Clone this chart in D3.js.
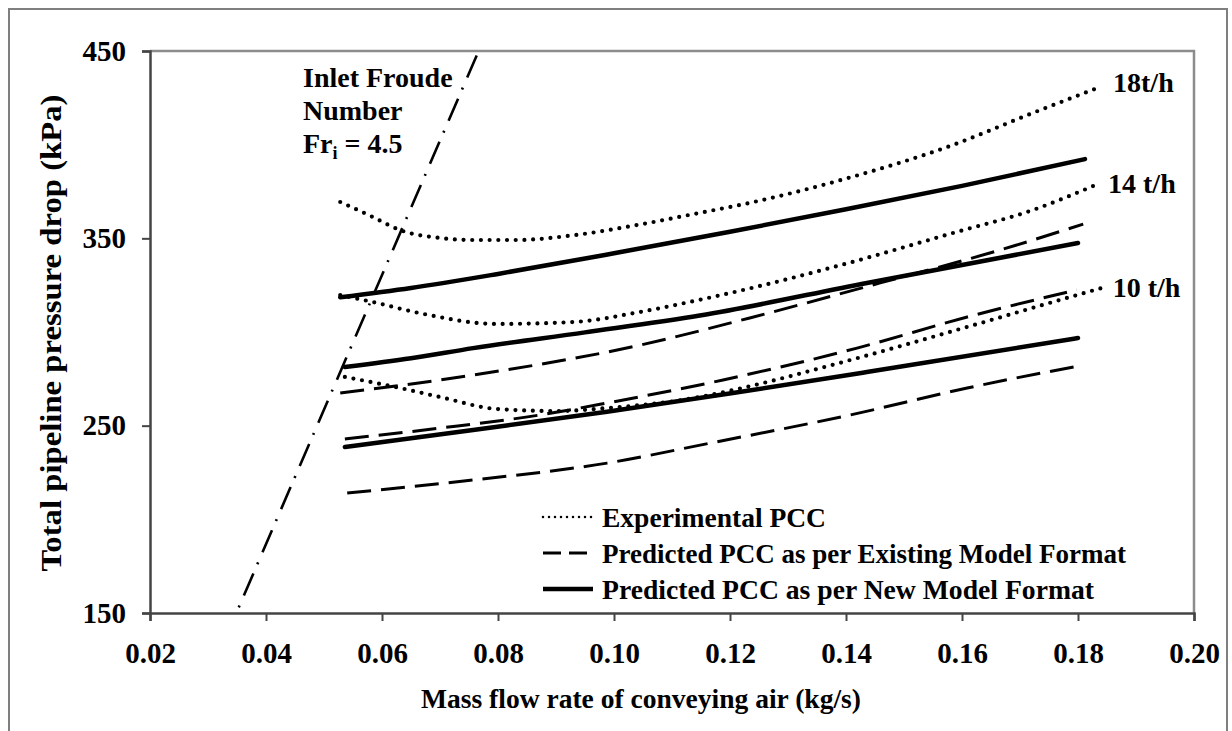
<!DOCTYPE html>
<html lang="en">
  <head>
    <meta charset="UTF-8" />
    <title>PCC</title>
    <script src="https://d3js.org/d3.v7.min.js"></script>
    <style>
      body { margin: 0; background: #fff; }
      text { font-family: 'Liberation Serif', 'Times New Roman', serif; font-weight: bold; fill: #000; }
    </style>
  </head>

  <body>
    <div id="graph"></div>
    <script>
      // tick values
      const xTicks = [0.02, 0.04, 0.06, 0.08, 0.1, 0.12, 0.14, 0.16, 0.18, 0.2]
      const yTicks = [150, 250, 350, 450]

      // experimental PCC (dotted)
      const exp18 = [[0.0528, 369.4], [0.0584, 361.4], [0.0631, 354.4], [0.07, 350.2], [0.0757, 349.1], [0.0833, 349.1], [0.0929, 351.6], [0.1045, 357.4], [0.1148, 363.6], [0.1214, 367.6], [0.1398, 381.7], [0.1584, 399.8], [0.1722, 416.9], [0.1838, 430.8]]
      const exp14 = [[0.0528, 319.7], [0.0584, 316], [0.0666, 310], [0.0798, 304.3], [0.0929, 305.3], [0.1045, 310.7], [0.1148, 317.2], [0.1214, 321.8], [0.1398, 336.3], [0.1584, 352.8], [0.1722, 365.1], [0.1838, 379.5]]
      const exp10 = [[0.0536, 276], [0.0631, 270.1], [0.07, 265.3], [0.0798, 258.9], [0.0902, 257.8], [0.0988, 259.4], [0.1148, 265.3], [0.1205, 269], [0.1407, 285], [0.1609, 302.7], [0.1781, 318.2], [0.1841, 323.5]]

      // predicted, existing model format (dashed)
      const existing18 = [[0.0528, 267.4], [0.0757, 277], [0.1045, 293], [0.1234, 307.5], [0.1459, 326.2], [0.1666, 343.8], [0.1809, 357.6]]
      const existing14 = [[0.0536, 242.9], [0.07, 248.7], [0.0872, 255.7], [0.0988, 262.1], [0.1188, 274.4], [0.1419, 291.4], [0.1609, 308], [0.1798, 322.5]]
      const existing10 = [[0.054, 214], [0.0757, 221], [0.0988, 230], [0.1166, 240.7], [0.1407, 255.7], [0.1609, 270.1], [0.18, 281.8]]

      // predicted, new model format (solid)
      const new18 = [[0.0528, 318.5], [0.065, 323.5], [0.08, 331], [0.1, 342], [0.12, 353.5], [0.14, 365.5], [0.16, 378], [0.1812, 392.3]]
      const new14 = [[0.0536, 281.3], [0.065, 286], [0.0757, 291.4], [0.095, 299.8], [0.1148, 308.8], [0.1436, 326.2], [0.18, 347.5]]
      const new10 = [[0.0536, 238.6], [0.0757, 247.7], [0.0988, 257.4], [0.1205, 267.4], [0.1436, 278.6], [0.18, 296.8]]

      // inlet Froude number line Fr = 4.5
      const froude = [[0.0353, 153], [0.0768, 451]]

      const rateLabels = ['18t/h', '14 t/h', '10 t/h']
      const legendLabels = ['Experimental PCC', 'Predicted PCC as per Existing Model Format', 'Predicted PCC as per New Model Format']

      const W = 1232, H = 731
      const svg = d3.select('#graph').append('svg').attr('width', W).attr('height', H)

      // outer frame
      svg.append('rect').attr('x', 9).attr('y', 9).attr('width', 1218).attr('height', 740)
        .attr('fill', 'none').attr('stroke', '#7f7f7f').attr('stroke-width', 2)

      const x = d3.scaleLinear().domain([0.02, 0.2]).range([150, 1194])
      const y = d3.scaleLinear().domain([150, 450]).range([613, 51])

      // plot frame (top/right)
      svg.append('path').attr('d', `M150,51H1194V613`).attr('fill', 'none').attr('stroke', '#8c8c8c').attr('stroke-width', 2.5)

      svg.append('clipPath').attr('id', 'clip').append('rect').attr('x', 150).attr('y', 51).attr('width', 1044).attr('height', 562)

      // axes
      const xAxis = d3.axisBottom(x).tickValues(xTicks).tickFormat(d3.format('.2f')).tickSize(8).tickPadding(14)
      const gx = svg.append('g').attr('transform', 'translate(0,613)').call(xAxis)
      const yAxis = d3.axisLeft(y).tickValues(yTicks).tickSize(8).tickPadding(16)
      const gy = svg.append('g').attr('transform', 'translate(150,0)').call(yAxis)
      ;[gx, gy].forEach((g) => {
        g.select('.domain').attr('stroke', '#444').attr('stroke-width', 2.5)
        g.selectAll('.tick line').attr('stroke', '#444').attr('stroke-width', 2)
        g.selectAll('.tick text').attr('font-size', 29).attr('fill', '#000')
      })
      gx.selectAll('.tick text').attr('dy', '0.98em')

      // axis titles
      svg.append('text').attr('x', 641).attr('y', 708).attr('text-anchor', 'middle').attr('font-size', 28)
        .attr('textLength', 440).attr('lengthAdjust', 'spacingAndGlyphs').text('Mass flow rate of conveying air (kg/s)')
      svg.append('text').attr('transform', 'translate(61,333) rotate(-90)').attr('text-anchor', 'middle').attr('font-size', 29)
        .attr('textLength', 477).attr('lengthAdjust', 'spacingAndGlyphs').text('Total pipeline pressure drop (kPa)')

      const line = d3.line().x((d) => x(d[0])).y((d) => y(d[1])).curve(d3.curveMonotoneX)
      const plot = svg.append('g').attr('clip-path', 'url(#clip)')

      const styles = {
        dotted: { w: 4.2, dash: '0 8.7', cap: 'round' },
        dashed: { w: 3, dash: '24 10', cap: 'butt' },
        solid: { w: 4.5, dash: null, cap: 'round' }
      }
      const series = [
        { data: exp18, s: 'dotted' }, { data: exp14, s: 'dotted' }, { data: exp10, s: 'dotted' },
        { data: existing18, s: 'dashed' }, { data: existing14, s: 'dashed' }, { data: existing10, s: 'dashed' },
        { data: new18, s: 'solid' }, { data: new14, s: 'solid' }, { data: new10, s: 'solid' }
      ]
      plot.selectAll('path.curve').data(series).join('path').attr('class', 'curve')
        .attr('d', (d) => line(d.data))
        .attr('fill', 'none').attr('stroke', '#000')
        .attr('stroke-width', (d) => styles[d.s].w)
        .attr('stroke-dasharray', (d) => styles[d.s].dash)
        .attr('stroke-linecap', (d) => styles[d.s].cap)

      // Froude line (dash-dot), drawn from the bottom up
      plot.append('path').attr('d', d3.line().x((d) => x(d[0])).y((d) => y(d[1]))(froude))
        .attr('fill', 'none').attr('stroke', '#000').attr('stroke-width', 2.6)
        .attr('stroke-dasharray', '2 11 24 10')

      // annotation
      const ann = svg.append('text').attr('x', 303).attr('font-size', 28)
      ann.append('tspan').attr('x', 303).attr('y', 87).text('Inlet Froude')
      ann.append('tspan').attr('x', 303).attr('y', 120).text('Number')
      ann.append('tspan').attr('x', 303).attr('y', 153).text('Fr')
      ann.append('tspan').attr('font-size', 18).attr('dy', 6).text('i')
      ann.append('tspan').attr('dy', -6).text(' = 4.5')

      // rate labels at end of experimental curves
      const rateEnds = [exp18, exp14, exp10].map((d) => d[d.length - 1])
      const rateDx = [13, 8, 11]
      const rateDy = [5, 10, 9]
      svg.selectAll('text.rate').data(rateLabels).join('text').attr('class', 'rate')
        .attr('x', (d, i) => x(rateEnds[i][0]) + rateDx[i])
        .attr('y', (d, i) => y(rateEnds[i][1]) + rateDy[i])
        .attr('font-size', 28)
        .text((d) => d)

      // legend
      const leg = svg.append('g').attr('transform', 'translate(543,517)')
      const legStyles = [
        { w: 2.5, dash: '0 6', cap: 'round' },
        { w: 3, dash: '18 8', cap: 'butt' },
        { w: 4.5, dash: null, cap: 'butt' }
      ]
      const legLen = [224, 524, 492]
      legendLabels.forEach((t, i) => {
        const row = leg.append('g').attr('transform', `translate(0,${i * 36})`)
        row.append('line').attr('x1', 0).attr('x2', 50).attr('y1', 0).attr('y2', 0)
          .attr('stroke', '#000').attr('stroke-width', legStyles[i].w)
          .attr('stroke-dasharray', legStyles[i].dash).attr('stroke-linecap', legStyles[i].cap)
        row.append('text').attr('x', 59).attr('y', 10).attr('font-size', 28)
          .attr('textLength', legLen[i]).attr('lengthAdjust', 'spacingAndGlyphs').text(t)
      })
    </script>
  </body>
</html>
